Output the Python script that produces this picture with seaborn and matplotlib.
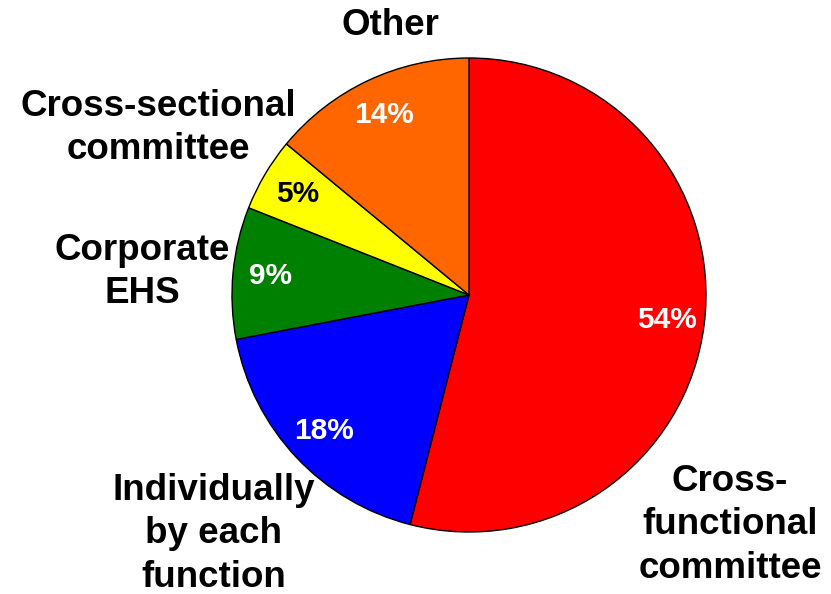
import matplotlib
matplotlib.use("Agg")
import matplotlib.pyplot as plt
import seaborn as sns

# Responsibility share, drawn clockwise from 12 o'clock
categories = ["Cross-\nfunctional\ncommittee", "Individually\nby each\nfunction",
              "Corporate\nEHS", "Cross-sectional\ncommittee", "Other"]
shares = [54, 18, 9, 5, 14]
slice_colors = ["#FF0000", "#0000FF", "#008000", "#FFFF00", "#FF6600"]
pct_colors = ["white", "white", "white", "black", "white"]

# Outer label anchors in pie-radius units
label_xy = [(1.101, -0.970), (-1.076, -1.008), (-1.380, 0.097),
            (-1.312, 0.705), (-0.333, 1.139)]

sns.set_theme(style="white")
plt.rcParams["font.family"] = ["Liberation Sans", "DejaVu Sans"]
plt.rcParams["font.weight"] = "bold"

fig = plt.figure(figsize=(8.31, 5.94), dpi=100)
ax = fig.add_axes([0, 0, 1, 1])

wedges, texts, autotexts = ax.pie(
    shares,
    colors=slice_colors,
    startangle=90,
    counterclock=False,
    autopct=lambda p: f"{p:.0f}%",
    pctdistance=0.84,
    wedgeprops=dict(edgecolor="black", linewidth=1.0),
    textprops=dict(fontsize=21.5, fontweight="bold"),
)
for t, c in zip(autotexts, pct_colors):
    t.set_color(c)

for name, (x, y) in zip(categories, label_xy):
    ax.text(x, y, name, ha="center", va="center", multialignment="center",
            fontsize=26.5, fontweight="bold", color="black", linespacing=1.32)

ax.set_xlim(-469 / 237, (831 - 469) / 237)
ax.set_ylim(-(594 - 295) / 237, 295 / 237)
ax.set_aspect("equal", adjustable="datalim")
ax.axis("off")

fig.savefig("out.png", dpi=100, facecolor="white")
